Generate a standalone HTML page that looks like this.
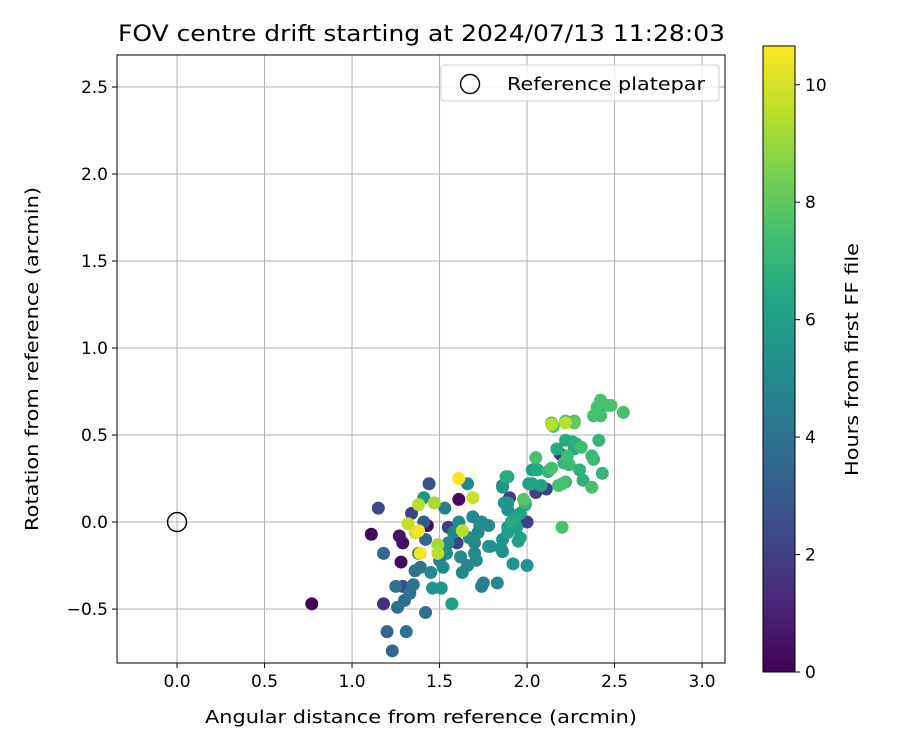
<!DOCTYPE html>
<html><head><meta charset="utf-8"><style>
body{margin:0;background:#fff;font-family:"Liberation Sans","DejaVu Sans",sans-serif}
svg text{font-family:"DejaVu Sans","Liberation Sans",sans-serif;fill:#000}
</style></head><body>
<svg id="chart" width="900" height="750" xmlns="http://www.w3.org/2000/svg">
<defs><linearGradient id="vir" x1="0" y1="1" x2="0" y2="0">
<stop offset="0" stop-color="#440154"/><stop offset="0.1" stop-color="#482475"/><stop offset="0.2" stop-color="#414487"/><stop offset="0.3" stop-color="#355f8d"/><stop offset="0.4" stop-color="#2a788e"/><stop offset="0.5" stop-color="#21918c"/><stop offset="0.6" stop-color="#22a884"/><stop offset="0.7" stop-color="#44bf70"/><stop offset="0.8" stop-color="#7ad151"/><stop offset="0.9" stop-color="#bddf26"/><stop offset="1" stop-color="#fde725"/>
</linearGradient></defs>
<text x="118" y="41" font-size="22" textLength="607" lengthAdjust="spacingAndGlyphs">FOV centre drift starting at 2024/07/13 11:28:03</text>
<g id="grid"></g>
<g id="pts"></g>
<rect x="117" y="55" width="608" height="608" fill="none" stroke="#000" stroke-width="1"/>
<g id="ticks"></g>
<text x="205" y="723" font-size="18" textLength="432" lengthAdjust="spacingAndGlyphs">Angular distance from reference (arcmin)</text>
<text transform="translate(38,531) rotate(-90)" font-size="18" textLength="344" lengthAdjust="spacingAndGlyphs">Rotation from reference (arcmin)</text>
<g>
<rect x="441" y="65" width="278" height="36" rx="3" fill="#fff" fill-opacity="0.8" stroke="#ccc"/>
<circle cx="470" cy="84" r="9.5" fill="none" stroke="#000" stroke-width="1.4"/>
<text x="507" y="90" font-size="18" textLength="198" lengthAdjust="spacingAndGlyphs">Reference platepar</text>
</g>
<rect x="763" y="46" width="32" height="626" fill="url(#vir)" stroke="#000" stroke-width="1"/>
<g id="cticks"></g>
<text transform="translate(858,476) rotate(-90)" font-size="18" textLength="233" lengthAdjust="spacingAndGlyphs">Hours from first FF file</text>
</svg>
<script>
const xTicks=[0.0,0.5,1.0,1.5,2.0,2.5,3.0];
const yTicks=[-0.5,0.0,0.5,1.0,1.5,2.0,2.5];
const cTicks=[0,2,4,6,8,10];
const refPoint=[0,0];
const hours=[0.1,0.2,0.2,0.3,0.3,0.6,0.4,1.5,2.3,2.6,2,2,2,2.5,2,2,2,2,1.5,
10.5,9.8,9.5,9.3,9.7,10.5,9.5,10.5,9.5,9.2,10,9.5,9.5,
7.5,8,7.5,7.6,7.5,7.4,7.6,7.5,7.5,7,7.2,7.0,7.0,7.5,6.8,6.7,6.5,6.5,7.3,6.8,7,7.2,7.3,6.5,6.5,7.5,7,7.5,7.5,6.5,6,7.5,7.5,7.3,7.8,7,6.6,6.2,8,7.5,7.5,
5.5,5,6,6,6,5.5,5.5,6,6,6,6,5.5,5.5,5,4.5,5.5,5.5,5,5.5,4.5,5,5,5,5,5,5.5,5.5,5.5,5.5,5.5,5.5,5,5,5,5,5,5,4,4.5,4.5,5.5,5.5,6,4.5,4,4,4,3.8,3.8,3.5,4,3.5,3.5,4,4,3,3.5,5,5,6,6,5,4.8,4.7,4.8,5.2,6.3,6.2,6.5];
const distX=[0.77,1.11,1.28,1.61,1.43,1.27,1.29,1.18,1.15,1.44,1.34,1.55,1.6,1.29,2.0,2.11,1.9,2.05,2.19,
1.61,1.69,1.38,1.47,1.32,1.38,1.63,1.39,1.49,1.49,1.36,2.14,2.22,
2.15,2.27,2.38,2.42,2.40,2.46,2.48,2.42,2.55,2.41,2.38,2.37,2.43,2.37,2.30,2.28,2.26,2.27,2.31,2.32,2.21,2.24,2.23,2.22,2.17,2.20,2.12,2.14,2.05,2.06,2.08,2.18,2.20,2.22,1.98,1.99,1.88,2.03,2.14,2.22,2.27,
1.89,1.86,2.01,2.03,1.99,1.87,1.89,1.91,1.94,1.89,1.95,1.92,2.0,1.83,1.75,1.79,1.86,1.66,1.41,1.53,1.69,1.74,1.61,1.67,1.70,1.78,1.86,1.89,1.89,1.86,1.85,1.62,1.54,1.71,1.63,1.52,1.45,1.39,1.38,1.50,1.46,1.51,1.57,1.74,1.42,1.33,1.35,1.26,1.30,1.20,1.31,1.23,1.18,1.25,1.36,1.41,1.42,1.78,1.72,1.94,1.96,1.70,1.66,1.58,1.55,1.73,1.93,1.96,1.91];
const rotY=[-0.47,-0.07,-0.23,0.13,-0.02,-0.08,-0.12,-0.47,0.08,0.22,0.05,-0.03,-0.12,-0.37,0.0,0.19,0.14,0.17,0.39,
0.25,0.14,0.10,0.11,-0.01,-0.05,-0.05,-0.18,-0.18,-0.13,-0.06,0.56,0.57,
0.55,0.57,0.61,0.70,0.66,0.67,0.67,0.61,0.63,0.47,0.36,0.38,0.28,0.20,0.30,0.45,0.46,0.42,0.43,0.24,0.34,0.33,0.38,0.47,0.42,-0.03,0.29,0.31,0.37,0.30,0.21,0.21,0.22,0.23,0.13,0.11,0.26,0.22,0.57,0.58,0.58,
0.26,0.21,0.22,0.30,0.10,0.11,0.07,-0.01,-0.03,-0.06,-0.11,-0.24,-0.25,-0.35,-0.35,-0.14,-0.17,0.22,0.14,0.08,0.03,0.0,0.0,-0.09,-0.12,-0.14,-0.10,-0.03,0.11,0.20,-0.15,-0.20,-0.18,-0.22,-0.29,-0.26,-0.29,-0.26,-0.18,-0.22,-0.38,-0.38,-0.47,-0.37,-0.52,-0.41,-0.36,-0.49,-0.45,-0.63,-0.63,-0.74,-0.18,-0.37,-0.28,0.0,-0.10,-0.02,-0.06,-0.03,-0.09,-0.18,-0.25,-0.06,-0.12,-0.02,0.02,0.05,0.0];
const X0=117,X1=725,Y0=55,Y1=663,xmin=-0.343,xmax=3.131,ymin=-0.81,ymax=2.684,cmax=10.66;
const sx=v=>X0+(v-xmin)/(xmax-xmin)*(X1-X0);
const sy=v=>Y1-(v-ymin)/(ymax-ymin)*(Y1-Y0);
const sc=v=>672-v/cmax*626;
const NS="http://www.w3.org/2000/svg";
const vir=[[68,1,84],[72,36,117],[65,68,135],[53,95,141],[42,120,142],[33,145,140],[34,168,132],[68,191,112],[122,209,81],[189,223,38],[253,231,37]];
function cmap(h){let t=Math.max(0,Math.min(1,h/cmax))*10;let i=Math.min(9,Math.floor(t));let f=t-i;const a=vir[i],b=vir[i+1];return `rgb(${a.map((c,k)=>Math.round(c+(b[k]-c)*f)).join(',')})`;}
function mk(tag,at,parent){const e=document.createElementNS(NS,tag);for(const k in at)e.setAttribute(k,at[k]);parent.appendChild(e);return e;}
const grid=document.getElementById('grid'),ticks=document.getElementById('ticks'),pts=document.getElementById('pts'),ct=document.getElementById('cticks');
xTicks.forEach(t=>{const x=sx(t);
const g=mk('line',{x1:x,x2:x,y1:Y0,y2:Y1,stroke:'#b0b0b0','stroke-width':1},grid);


mk('line',{x1:x,x2:x,y1:Y1,y2:Y1+5,stroke:'#000'},ticks);
const l=mk('text',{x:x,y:Y1+24,'font-size':17,'text-anchor':'middle'},ticks);l.textContent=t.toFixed(1);

});
yTicks.forEach(t=>{const y=sy(t);
const g=mk('line',{x1:X0,x2:X1,y1:y,y2:y,stroke:'#b0b0b0','stroke-width':1},grid);


mk('line',{x1:X0-5,x2:X0,y1:y,y2:y,stroke:'#000'},ticks);
const l=mk('text',{x:X0-9,y:y+6,'font-size':17,'text-anchor':'end'},ticks);l.textContent=(t<0?'\u2212':'')+Math.abs(t).toFixed(1);

});
cTicks.forEach(t=>{const y=sc(t);
mk('line',{x1:795,x2:800,y1:y,y2:y,stroke:'#000'},ct);
const l=mk('text',{x:805,y:y+6,'font-size':17},ct);l.textContent=t;

});
const order=hours.map((h,i)=>i).sort((a,b)=>hours[a]-hours[b]);
order.forEach(i=>{const c=mk('circle',{cx:sx(distX[i]),cy:sy(rotY[i]),r:6.5,fill:cmap(hours[i])},pts);

});
const r=mk('circle',{cx:sx(refPoint[0]),cy:sy(refPoint[1]),r:9.5,fill:'none',stroke:'#000','stroke-width':1.4},pts);


</script>
</body></html>
